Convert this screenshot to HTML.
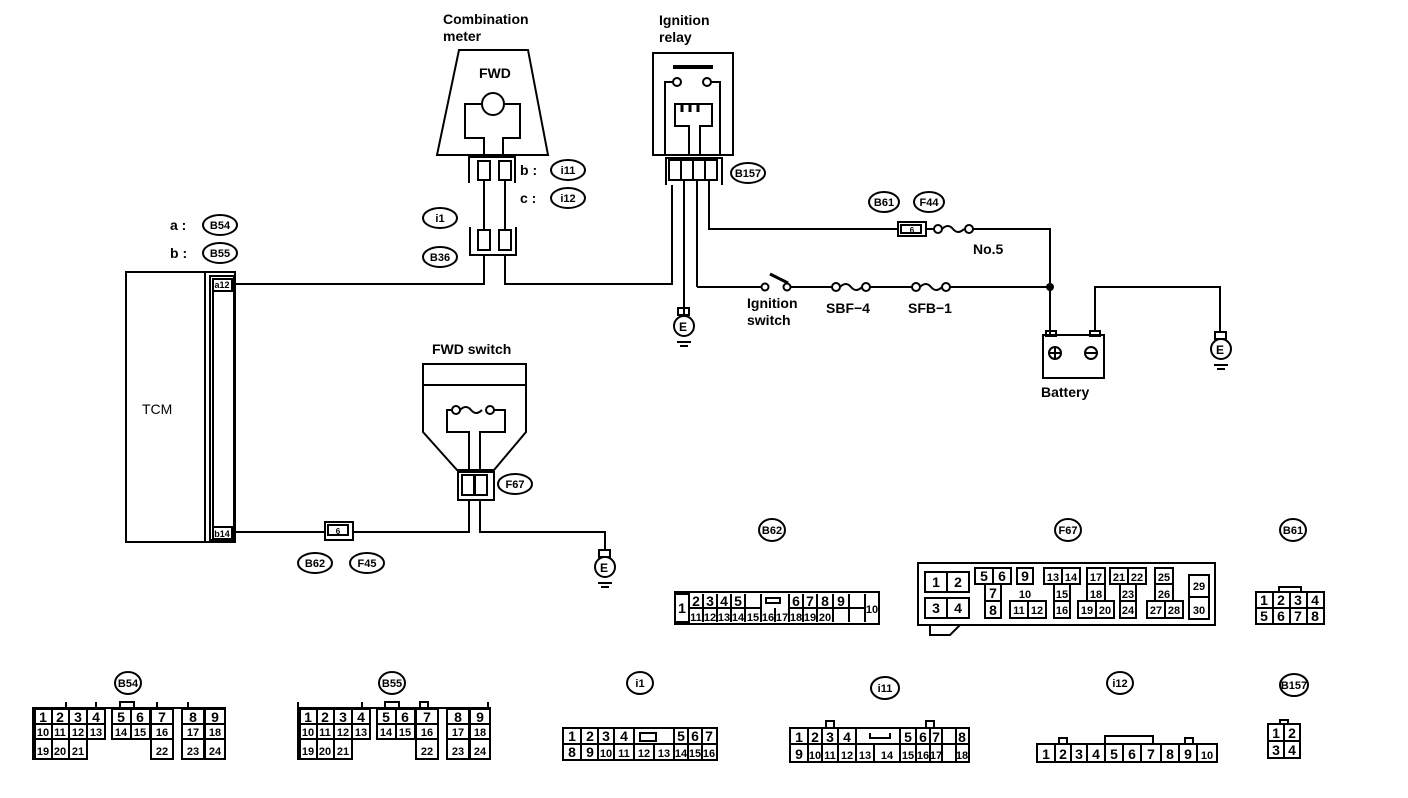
<!DOCTYPE html>
<html><head><meta charset="utf-8"><style>
html,body{margin:0;padding:0;background:#fff;}
svg{display:block;font-family:"Liberation Sans",sans-serif;}
.l{font-size:14px;font-weight:bold;}
.o{font-size:11px;font-weight:bold;}
.n{font-size:14px;font-weight:bold;}
</style></head><body>
<svg width="1408" height="798" viewBox="0 0 1408 798" xmlns="http://www.w3.org/2000/svg">
<g fill="none" stroke="#000" stroke-width="2">
<polygon points="459,50 528,50 548,155 437,155"/>
<circle cx="493" cy="104" r="11"/>
<polyline points="482,104 465,104 465,138 484,138 484,157"/>
<polyline points="504,104 520,104 520,138 503,138 503,157"/>
<polyline points="469,183 469,157 515,157 515,183"/>
<rect x="478" y="161" width="12" height="19"/>
<rect x="499" y="161" width="12" height="19"/>
<line x1="484" y1="180" x2="484" y2="230"/>
<line x1="505" y1="180" x2="505" y2="230"/>
<polyline points="470,227 470,255 516,255 516,227"/>
<rect x="478" y="230" width="12" height="20"/>
<rect x="499" y="230" width="12" height="20"/>
<polyline points="484,255 484,284 236,284"/>
<polyline points="505,255 505,284 672,284 672,185"/>
<rect x="653" y="53" width="80" height="102"/>
<line x1="673" y1="67" x2="713" y2="67" stroke-width="4"/>
<circle cx="677" cy="82" r="4"/><circle cx="707" cy="82" r="4"/>
<polyline points="673,82 665,82 665,155"/>
<polyline points="711,82 720,82 720,155"/>
<polyline points="689,155 689,126 675,126 675,104 712,104 712,126 700,126 700,155"/>
<path d="M682,104 v8 M690,104 v8 M698,104 v8" stroke-width="3"/>
<polyline points="666,185 666,158 722,158 722,185"/>
<rect x="669" y="160" width="48" height="20"/>
<path d="M681,160v20M693,160v20M705,160v20"/>
<line x1="684" y1="180" x2="684" y2="315"/>
<line x1="697" y1="180" x2="697" y2="287"/>
<polyline points="709,180 709,229 898,229"/>
<rect x="898" y="222" width="28" height="14"/>
<rect x="901" y="225" width="20" height="8"/>
<polyline points="926,229 935,229"/>
<circle cx="938" cy="229" r="4"/><circle cx="969" cy="229" r="4"/>
<path d="M942,229 q6,-6 11,0 t11,0"/>
<polyline points="973,229 1050,229 1050,335"/>
<polyline points="697,287 762,287"/>
<circle cx="765" cy="287" r="3.5"/><circle cx="787" cy="287" r="3.5"/>
<line x1="770" y1="274" x2="788" y2="283" stroke-width="3"/>
<line x1="791" y1="287" x2="832" y2="287"/>
<circle cx="836" cy="287" r="4"/><circle cx="866" cy="287" r="4"/>
<path d="M840,287 q6,-6 11,0 t11,0"/>
<line x1="870" y1="287" x2="912" y2="287"/>
<circle cx="916" cy="287" r="4"/><circle cx="946" cy="287" r="4"/>
<path d="M920,287 q6,-6 11,0 t11,0"/>
<line x1="950" y1="287" x2="1050" y2="287"/>
<circle cx="1050" cy="287" r="3" fill="#000"/>
<rect x="1043" y="335" width="61" height="43"/>
<rect x="1046" y="331" width="10" height="5"/>
<rect x="1090" y="331" width="10" height="5"/>
<polyline points="1095,331 1095,287 1220,287 1220,332"/>
<circle cx="1055" cy="353" r="6"/><path d="M1049,353h12M1055,347v12"/>
<circle cx="1091" cy="353" r="6"/><path d="M1085,353h12"/>
<rect x="126" y="272" width="109" height="270"/>
<line x1="205" y1="272" x2="205" y2="542"/>
<rect x="210" y="276" width="24" height="264"/>
<rect x="213" y="279" width="19" height="12"/>
<rect x="213" y="527" width="19" height="12"/>
<line x1="213" y1="291" x2="213" y2="527"/>
<rect x="423" y="364" width="103" height="21"/>
<polyline points="423,385 423,432 457,470 494,470 526,432 526,385"/>
<circle cx="456" cy="410" r="4"/><circle cx="490" cy="410" r="4"/>
<path d="M460,410 q6,-6 11,0 t11,0"/>
<polyline points="452,410 447,410 447,432 469,432 469,470"/>
<polyline points="494,410 505,410 505,432 480,432 480,470"/>
<rect x="458" y="472" width="36" height="28"/>
<rect x="462" y="475" width="12" height="20"/><rect x="475" y="475" width="12" height="20"/>
<polyline points="469,500 469,532 353,532"/>
<rect x="325" y="522" width="28" height="18"/>
<rect x="328" y="525" width="20" height="10"/>
<line x1="325" y1="532" x2="236" y2="532"/>
<polyline points="480,500 480,532 605,532 605,550"/>
<rect x="678" y="308" width="11" height="7"/><circle cx="684" cy="326" r="10"/><path d="M677,342h14M680,346h8"/>
<rect x="1215" y="332" width="11" height="7"/><circle cx="1221" cy="349" r="10"/><path d="M1214,365h14M1217,369h8"/>
<rect x="599" y="550" width="11" height="7"/><circle cx="605" cy="567" r="10"/><path d="M598,583h14M601,587h8"/>
<ellipse cx="440" cy="218" rx="17" ry="10"/>
<ellipse cx="440" cy="257" rx="17" ry="10"/>
<ellipse cx="568" cy="170" rx="17" ry="10"/>
<ellipse cx="568" cy="198" rx="17" ry="10"/>
<ellipse cx="748" cy="173" rx="17" ry="10"/>
<ellipse cx="220" cy="225" rx="17" ry="10"/>
<ellipse cx="220" cy="253" rx="17" ry="10"/>
<ellipse cx="515" cy="484" rx="17" ry="10"/>
<ellipse cx="315" cy="563" rx="17" ry="10"/>
<ellipse cx="367" cy="563" rx="17" ry="10"/>
<ellipse cx="884" cy="202" rx="15" ry="10"/>
<ellipse cx="929" cy="202" rx="15" ry="10"/>
<ellipse cx="772" cy="530" rx="13" ry="11"/>
<ellipse cx="1068" cy="530" rx="13" ry="11"/>
<ellipse cx="1293" cy="530" rx="13" ry="11"/>
<ellipse cx="128" cy="683" rx="13" ry="11"/>
<ellipse cx="392" cy="683" rx="13" ry="11"/>
<ellipse cx="640" cy="683" rx="13" ry="11"/>
<ellipse cx="885" cy="688" rx="14" ry="11"/>
<ellipse cx="1120" cy="683" rx="13" ry="11"/>
<ellipse cx="1294" cy="685" rx="14" ry="11"/>
</g>
<g class="l" fill="#000">
<text x="443" y="24">Combination</text><text x="443" y="41">meter</text>
<text x="479" y="78">FWD</text>
<text x="659" y="25">Ignition</text><text x="659" y="42">relay</text>
<text x="520" y="175">b :</text><text x="520" y="203">c :</text>
<text x="170" y="230">a :</text><text x="170" y="258">b :</text>
<text x="142" y="414" font-weight="normal">TCM</text>
<text x="432" y="354">FWD switch</text>
<text x="973" y="254">No.5</text>
<text x="747" y="308">Ignition</text><text x="747" y="325">switch</text>
<text x="826" y="313">SBF−4</text><text x="908" y="313">SFB−1</text>
<text x="1041" y="397">Battery</text>
<text x="679" y="331" font-size="12">E</text>
<text x="1216" y="354" font-size="12">E</text>
<text x="600" y="572" font-size="12">E</text>
</g>
<g class="o" fill="#000" text-anchor="middle">
<text x="440" y="222">i1</text><text x="440" y="261">B36</text>
<text x="568" y="174">i11</text><text x="568" y="202">i12</text>
<text x="748" y="177">B157</text>
<text x="220" y="229">B54</text><text x="220" y="257">B55</text>
<text x="515" y="488">F67</text><text x="315" y="567">B62</text><text x="367" y="567">F45</text>
<text x="884" y="206">B61</text><text x="929" y="206">F44</text>
<text x="772" y="534">B62</text><text x="1068" y="534">F67</text><text x="1293" y="534">B61</text>
<text x="128" y="687">B54</text><text x="392" y="687">B55</text><text x="640" y="687">i1</text>
<text x="885" y="692">i11</text><text x="1120" y="687">i12</text><text x="1294" y="689">B157</text>
<text x="222" y="288" font-size="9">a12</text><text x="222" y="537" font-size="9">b14</text>
<text x="912" y="233" font-size="8">6</text><text x="338" y="534" font-size="8">6</text>
</g>
<g fill="none" stroke="#000" stroke-width="2">
<rect x="675" y="592" width="204" height="32"/>
<rect x="675" y="594" width="14" height="28"/>
<path d="M689,608h72 M789,608h76 M703,594v28 M717,594v28 M731,594v28 M745,594v28 M761,594v28 M775,608v14 M789,594v28 M803,594v28 M817,594v28 M833,594v28 M849,594v28 M865,594v28"/>
<rect x="766" y="598" width="14" height="5"/>
<rect x="918" y="563" width="297" height="62"/>
<path d="M930,625 v10 h20 l10,-10" />
<rect x="925" y="572" width="44" height="20"/><rect x="925" y="598" width="44" height="20"/>
<path d="M947,572v20M947,598v20"/>
<rect x="975" y="568" width="36" height="16"/><rect x="985" y="584" width="16" height="34"/><path d="M993,568v16M985,601h16"/>
<rect x="1017" y="568" width="16" height="16"/><rect x="1010" y="601" width="36" height="17"/><path d="M1028,601v17"/>
<rect x="1044" y="568" width="36" height="16"/><path d="M1062,568v16"/><rect x="1054" y="584" width="16" height="34"/><path d="M1054,601h16"/>
<rect x="1087" y="568" width="18" height="33"/><rect x="1078" y="601" width="36" height="17"/><path d="M1096,601v17M1087,584h18"/>
<rect x="1110" y="568" width="36" height="16"/><path d="M1128,568v16"/><rect x="1120" y="584" width="16" height="34"/><path d="M1120,601h16"/>
<rect x="1155" y="568" width="18" height="33"/><rect x="1147" y="601" width="36" height="17"/><path d="M1165,601v17M1155,584h18"/>
<rect x="1189" y="575" width="20" height="44"/><path d="M1189,597h20"/>
<rect x="1256" y="592" width="68" height="32"/><path d="M1256,608h68M1273,592v32M1290,592v32M1307,592v32"/><rect x="1279" y="587" width="22" height="5"/>
<path d="M33,760 V708 H225 V760"/>
<rect x="35" y="709" width="70" height="30"/><rect x="35" y="739" width="52" height="20"/>
<path d="M35,724h70M52,709v50M69,709v50M87,709v30"/>
<rect x="112" y="709" width="38" height="30"/><path d="M112,724h38M131,709v30"/>
<rect x="151" y="709" width="22" height="50"/><path d="M151,724h22M151,739h22"/>
<rect x="182" y="709" width="22" height="50"/><path d="M182,724h22M182,739h22"/>
<rect x="205" y="709" width="20" height="50"/><path d="M205,724h20M205,739h20"/>
<path d="M66,708v-6M96,708v-6M120,708v-6h14v6M157,708v-6M188,708v-6"/>
<path d="M298,760 V708 H490 V760"/>
<rect x="300" y="709" width="70" height="30"/><rect x="300" y="739" width="52" height="20"/>
<path d="M300,724h70M317,709v50M334,709v50M352,709v30"/>
<rect x="377" y="709" width="38" height="30"/><path d="M377,724h38M396,709v30"/>
<rect x="416" y="709" width="22" height="50"/><path d="M416,724h22M416,739h22"/>
<rect x="447" y="709" width="22" height="50"/><path d="M447,724h22M447,739h22"/>
<rect x="470" y="709" width="20" height="50"/><path d="M470,724h20M470,739h20"/>
<path d="M298,708v-6M362,708v-6M385,708v-6h14v6M420,708v-6h8v6M488,708v-6"/>
<rect x="563" y="728" width="154" height="32"/>
<path d="M563,744h154M581,728v32M598,728v32M614,728v32M634,728v32M654,744v16M674,728v32M688,728v32M702,728v32M634,744h20"/>
<rect x="640" y="733" width="16" height="8"/>
<rect x="790" y="728" width="179" height="34"/>
<path d="M790,744h179M808,728v34M822,728v34M838,728v34M856,728v34M874,744v18M900,728v34M916,728v34M930,728v34M942,728v34M956,728v34"/>
<path d="M826,728v-7h8v7M926,728v-7h8v7M870,733v5h20v-5"/>
<rect x="1037" y="744" width="180" height="18"/>
<path d="M1055,744v18M1071,744v18M1087,744v18M1105,744v18M1123,744v18M1141,744v18M1161,744v18M1179,744v18M1197,744v18"/>
<path d="M1059,744v-6h8v6M1105,744v-8h48v8M1185,744v-6h8v6"/>
<rect x="1268" y="724" width="32" height="34"/><path d="M1268,741h32M1284,724v34"/><path d="M1280,724v-4h8v4"/>
</g>
<g class="n" fill="#000" text-anchor="middle">
<text x="682" y="613">1</text>
<text x="696" y="606">2</text><text x="710" y="606">3</text><text x="724" y="606">4</text><text x="738" y="606">5</text>
<text x="796" y="606">6</text><text x="810" y="606">7</text><text x="825" y="606">8</text><text x="841" y="606">9</text><text x="872" y="613" font-size="11">10</text>
<g font-size="11"><text x="696" y="621">11</text><text x="710" y="621">12</text><text x="724" y="621">13</text><text x="738" y="621">14</text><text x="753" y="621">15</text><text x="768" y="621">16</text><text x="782" y="621">17</text><text x="796" y="621">18</text><text x="810" y="621">19</text><text x="825" y="621">20</text></g>
<text x="936" y="587">1</text><text x="958" y="587">2</text><text x="936" y="613">3</text><text x="958" y="613">4</text>
<text x="984" y="581">5</text><text x="1002" y="581">6</text><text x="993" y="598">7</text><text x="993" y="615">8</text>
<text x="1025" y="581">9</text>
<g font-size="11"><text x="1025" y="598">10</text><text x="1019" y="614">11</text><text x="1037" y="614">12</text>
<text x="1053" y="581">13</text><text x="1071" y="581">14</text><text x="1062" y="598">15</text><text x="1062" y="614">16</text>
<text x="1096" y="581">17</text><text x="1096" y="598">18</text><text x="1087" y="614">19</text><text x="1105" y="614">20</text>
<text x="1119" y="581">21</text><text x="1137" y="581">22</text><text x="1128" y="598">23</text><text x="1128" y="614">24</text>
<text x="1164" y="581">25</text><text x="1164" y="598">26</text><text x="1156" y="614">27</text><text x="1174" y="614">28</text>
<text x="1199" y="590">29</text><text x="1199" y="614">30</text></g>
<text x="1264" y="605">1</text><text x="1281" y="605">2</text><text x="1298" y="605">3</text><text x="1315" y="605">4</text>
<text x="1264" y="621">5</text><text x="1281" y="621">6</text><text x="1298" y="621">7</text><text x="1315" y="621">8</text>
<text x="43" y="722">1</text><text x="60" y="722">2</text><text x="78" y="722">3</text><text x="96" y="722">4</text>
<text x="121" y="722">5</text><text x="140" y="722">6</text><text x="162" y="722">7</text><text x="193" y="722">8</text><text x="215" y="722">9</text>
<g font-size="11"><text x="43" y="736">10</text><text x="60" y="736">11</text><text x="78" y="736">12</text><text x="96" y="736">13</text>
<text x="121" y="736">14</text><text x="140" y="736">15</text><text x="162" y="736">16</text><text x="193" y="736">17</text><text x="215" y="736">18</text>
<text x="43" y="755">19</text><text x="60" y="755">20</text><text x="78" y="755">21</text><text x="162" y="755">22</text><text x="193" y="755">23</text><text x="215" y="755">24</text></g>
<text x="308" y="722">1</text><text x="325" y="722">2</text><text x="343" y="722">3</text><text x="361" y="722">4</text>
<text x="386" y="722">5</text><text x="405" y="722">6</text><text x="427" y="722">7</text><text x="458" y="722">8</text><text x="480" y="722">9</text>
<g font-size="11"><text x="308" y="736">10</text><text x="325" y="736">11</text><text x="343" y="736">12</text><text x="361" y="736">13</text>
<text x="386" y="736">14</text><text x="405" y="736">15</text><text x="427" y="736">16</text><text x="458" y="736">17</text><text x="480" y="736">18</text>
<text x="308" y="755">19</text><text x="325" y="755">20</text><text x="343" y="755">21</text><text x="427" y="755">22</text><text x="458" y="755">23</text><text x="480" y="755">24</text></g>
<text x="572" y="741">1</text><text x="590" y="741">2</text><text x="606" y="741">3</text><text x="624" y="741">4</text>
<text x="681" y="741">5</text><text x="695" y="741">6</text><text x="709" y="741">7</text>
<text x="572" y="757">8</text><text x="590" y="757">9</text>
<g font-size="11"><text x="606" y="757">10</text><text x="624" y="757">11</text><text x="644" y="757">12</text><text x="664" y="757">13</text><text x="681" y="757">14</text><text x="695" y="757">15</text><text x="709" y="757">16</text></g>
<text x="799" y="742">1</text><text x="815" y="742">2</text><text x="830" y="742">3</text><text x="847" y="742">4</text>
<text x="908" y="742">5</text><text x="923" y="742">6</text><text x="936" y="742">7</text><text x="962" y="742">8</text>
<text x="799" y="759">9</text>
<g font-size="11"><text x="815" y="759">10</text><text x="830" y="759">11</text><text x="847" y="759">12</text><text x="865" y="759">13</text><text x="887" y="759">14</text><text x="908" y="759">15</text><text x="923" y="759">16</text><text x="936" y="759">17</text><text x="962" y="759">18</text></g>
<text x="1046" y="759">1</text><text x="1063" y="759">2</text><text x="1079" y="759">3</text><text x="1096" y="759">4</text><text x="1114" y="759">5</text><text x="1132" y="759">6</text><text x="1151" y="759">7</text><text x="1170" y="759">8</text><text x="1188" y="759">9</text><text x="1207" y="759" font-size="11">10</text>
<text x="1276" y="738">1</text><text x="1292" y="738">2</text><text x="1276" y="755">3</text><text x="1292" y="755">4</text>
</g>
</svg>
</body></html>
